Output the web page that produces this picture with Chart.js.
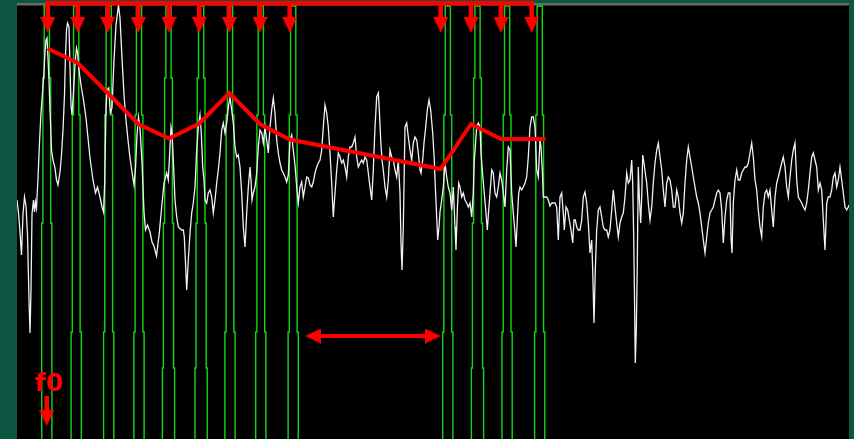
<!DOCTYPE html>
<html>
<head>
<meta charset="utf-8">
<script src="https://cdn.jsdelivr.net/npm/chart.js@4.4.1/dist/chart.umd.min.js"></script>
<style>
  html, body { margin: 0; padding: 0; background: #0c5540; }
  canvas { display: block; }
</style>
</head>
<body>
<canvas id="spectrum" width="854" height="439"></canvas>
<script>
// x = frequency bin, y = attenuation below the top of the display (larger = lower)
const spectrum = [
  [17, 200], [18.5, 213], [20, 232], [21.5, 255], [23, 214], [24.5, 197], [26, 206], [27.5, 235],
  [29, 300], [30, 333], [31, 290], [32, 214], [33.5, 200], [34.5, 212], [35.5, 202], [36.5, 208],
  [38, 178], [39.5, 142], [41, 113], [42.5, 93], [44, 72], [45, 52], [46, 40], [47, 38],
  [48, 58], [49, 80], [50, 110], [51.5, 150], [53, 160], [55, 168], [56.5, 180], [58, 185],
  [60, 172], [61.5, 155], [63, 130], [64.5, 95], [65.5, 55], [66.5, 30], [67.5, 23], [69, 27],
  [70, 68], [71, 105], [72, 115], [73.5, 92], [75, 65], [76.5, 48], [77.5, 52], [79, 70],
  [81, 85], [83.5, 100], [86, 118], [88, 138], [90, 158], [93, 180], [95.5, 193], [97.5, 187],
  [100, 197], [102, 207], [103.5, 212], [104.7, 183], [106, 110], [107, 90], [108.7, 88], [110.3, 113],
  [112, 108], [114, 60], [116, 25], [118.5, 5], [120, 18], [122, 58], [124, 95], [126, 120],
  [128, 140], [130, 158], [132, 172], [134, 185], [135.5, 168], [137, 135], [138.5, 117], [140, 128],
  [142, 163], [144, 212], [145.5, 230], [147.5, 225], [150, 232], [152, 242], [154, 246], [156.5, 256],
  [159.3, 233], [161.7, 207], [164, 183], [166.7, 173], [168.3, 180], [170, 147], [171, 127], [172, 133],
  [173.3, 160], [175, 200], [176.7, 217], [178.3, 227], [181.7, 230], [183.3, 230], [184.3, 237], [185.7, 267],
  [186.7, 290], [188.3, 260], [190, 233], [191.7, 213], [193.3, 203], [195, 187], [196.7, 150], [198.3, 127],
  [200, 115], [201.3, 133], [202.7, 167], [204, 180], [205, 200], [206.7, 203], [208.3, 193], [210, 190],
  [211.7, 197], [213.3, 213], [215, 200], [216.7, 183], [218.3, 170], [220, 153], [221.7, 130], [223.3, 123],
  [225, 133], [226.7, 123], [228.3, 107], [230, 98], [231.7, 110], [233.3, 123], [235, 147], [236.7, 157],
  [238.3, 155], [240, 167], [241.7, 193], [243.3, 227], [245, 247], [246.7, 213], [248.3, 187], [250, 167],
  [251, 180], [252, 200], [253.3, 193], [255, 187], [256.7, 173], [258.3, 147], [260, 130], [261.7, 133],
  [263.3, 143], [265, 127], [266.7, 140], [268.3, 153], [270, 127], [271.7, 110], [273.3, 98], [275, 113],
  [276.7, 140], [278.3, 153], [280, 163], [281.7, 170], [283.3, 173], [285, 177], [286.7, 182], [288.3, 175],
  [290, 140], [291.7, 135], [293.3, 150], [295, 165], [296.7, 187], [298.3, 203], [300, 187], [301.7, 182],
  [303.3, 197], [305, 187], [306.7, 177], [308.3, 178], [310, 185], [311.7, 187], [313.3, 182], [315, 173],
  [316.7, 167], [318.3, 163], [320, 160], [321.7, 150], [323.3, 127], [325, 105], [326.7, 113], [328.3, 127],
  [330, 153], [331.7, 183], [333.3, 217], [335, 193], [336.7, 170], [338.3, 153], [340, 157], [341.7, 163],
  [343.3, 160], [345, 167], [346.7, 177], [348.3, 157], [350, 147], [351.7, 147], [353.3, 143], [355, 137],
  [356.7, 157], [358.3, 167], [360, 163], [361.7, 160], [363.3, 163], [365, 157], [366.7, 160], [368.3, 173],
  [370, 187], [371.7, 200], [373.3, 170], [375, 127], [376.7, 97], [378.3, 93], [379.3, 110], [380.7, 140],
  [382, 160], [383.3, 170], [385, 187], [386.7, 197], [388.3, 180], [390, 150], [391.7, 157], [393.3, 160],
  [395, 170], [396.7, 177], [398.3, 160], [400, 193], [401, 243], [402, 270], [403.3, 227], [405, 127],
  [406.7, 123], [408.3, 137], [410, 150], [411.7, 160], [413.3, 143], [415, 137], [416.7, 140], [418.3, 153],
  [420, 170], [421, 173], [422.7, 160], [424, 143], [425.7, 127], [427.3, 110], [429, 100], [430.7, 110],
  [432.7, 133], [434.3, 160], [435.3, 187], [436.7, 217], [437.7, 240], [439, 227], [440, 212], [441.7, 200],
  [443.3, 187], [445, 163], [446.7, 177], [448.3, 187], [450, 193], [451.7, 210], [453.3, 187], [455, 227],
  [456, 250], [457.3, 210], [458.7, 183], [460, 187], [461.7, 197], [463.3, 193], [465, 200], [466.7, 203],
  [468.3, 207], [470, 203], [471.7, 217], [473.3, 193], [474.3, 160], [475.3, 147], [476.7, 127], [478.3, 123],
  [480, 127], [481, 153], [482.3, 170], [484, 190], [486, 213], [487.3, 230], [488.7, 210], [490, 193],
  [491.7, 170], [493.3, 173], [495, 193], [496.7, 197], [498.3, 187], [500, 173], [501.7, 180], [503.3, 193],
  [505, 207], [506.7, 170], [508.3, 147], [510, 150], [511.7, 193], [513.3, 213], [515, 233], [516, 247],
  [517.3, 220], [518.7, 193], [520, 187], [521.7, 190], [523.3, 187], [525, 183], [526.7, 177], [528.3, 157],
  [530, 127], [531.7, 117], [533.3, 117], [535, 127], [536.7, 170], [538.3, 177], [540, 140], [541, 147],
  [542.3, 170], [543.3, 197], [546.7, 197], [548.3, 200], [550, 206], [551.7, 203], [555, 203], [556.7, 207],
  [558.3, 240], [560, 197], [561.7, 193], [563.3, 213], [564.3, 230], [566, 207], [567.7, 210], [569.3, 220],
  [571, 230], [572.7, 243], [574, 220], [575.3, 220], [576.7, 227], [578.3, 230], [580, 230], [581.7, 220],
  [583.3, 197], [585, 192], [586.7, 203], [588.3, 223], [590, 253], [591.7, 240], [592.7, 270], [594, 323],
  [595.3, 270], [596.7, 230], [598.3, 210], [600, 207], [601.7, 217], [603.3, 227], [605, 230], [606.7, 230],
  [608.3, 237], [610, 230], [611.7, 210], [613.3, 190], [615, 207], [616.7, 223], [618.3, 237], [620, 223],
  [621.7, 217], [623.3, 213], [625, 197], [626.7, 173], [628.3, 183], [630, 180], [631.7, 160], [632.7, 183],
  [633.7, 237], [634.7, 313], [635.3, 363], [636.3, 330], [637.3, 263], [638.3, 167], [639.3, 197], [640.7, 223],
  [641.7, 197], [642.7, 155], [644, 163], [645.3, 173], [646.7, 183], [648.3, 203], [650, 220], [651.7, 207],
  [653.3, 183], [655, 163], [656.7, 150], [658.3, 143], [660, 157], [661.7, 170], [663.3, 190], [665, 207],
  [666.7, 183], [668.3, 177], [670, 180], [671.7, 190], [673.3, 207], [675, 207], [676.7, 190], [678.3, 197],
  [680, 213], [681.7, 223], [683.3, 213], [685, 183], [686.7, 160], [688.3, 147], [690, 157], [691.7, 167],
  [693.3, 177], [695, 187], [696.7, 197], [698.3, 203], [700, 213], [701.7, 227], [703.3, 240], [705, 253],
  [706.7, 237], [708.3, 223], [710, 213], [711.7, 210], [713.3, 207], [715, 200], [716.7, 193], [718.3, 190],
  [720, 193], [721.7, 210], [723.3, 243], [725, 217], [726.7, 200], [728.3, 193], [730, 193], [731, 237],
  [732, 253], [733.3, 203], [735, 180], [736.7, 170], [738.3, 180], [740, 180], [741.7, 173], [743.3, 170],
  [745, 167], [746.7, 167], [748.3, 163], [750, 153], [751.7, 143], [753.3, 157], [755, 180], [756.7, 190],
  [758.3, 210], [760, 227], [761.7, 237], [763.3, 207], [765, 193], [766.7, 190], [768.3, 197], [770, 190],
  [771.7, 210], [773.3, 227], [775, 197], [776.7, 183], [778.3, 177], [780, 170], [781.7, 163], [783.3, 157],
  [785, 167], [786.7, 187], [788.3, 197], [790, 177], [791.7, 160], [793.3, 150], [795, 143], [796.7, 180],
  [798.3, 197], [800, 200], [801.7, 203], [803.3, 207], [805, 210], [806.7, 203], [808.3, 190], [810, 173],
  [811.7, 157], [813.3, 153], [815, 160], [816.7, 167], [818.3, 190], [820, 183], [821.7, 190], [823.3, 220],
  [825, 250], [826.7, 203], [828.3, 197], [830, 197], [831.7, 190], [833.3, 177], [835, 173], [836.7, 187],
  [838.3, 180], [840, 167], [841.7, 180], [843.3, 193], [845, 207], [846.7, 210], [848.3, 207], [849, 205],
];

// picked harmonics (red arrows) and the envelope drawn through them
const harmonicBins = [47.7, 77.7, 107.7, 138.3, 169, 199.3, 229.3, 260, 289.7, 440.7, 471, 501, 531.7];
const envelopeBins = [47.7, 77.7, 107.7, 138.3, 169, 199.3, 229.3, 260, 289.7, 440.7, 471, 501, 545.5];
const envelopeLevels = [48.5, 63, 93, 124, 138.5, 123.5, 93, 124, 139.5, 169, 124, 139, 139];

// analysis windows (green): centre bin and the levels where each window widens
const windowCenters = [46.8, 76.2, 108.7, 139, 168.5, 201.1, 230, 260.8, 293.2, 447.8, 477.5, 507.1, 539.7];
const windowSteps = [
  [78, 223], [115, 332], [115, 332], [115, 332], [78, 223, 368], [78, 223, 368], [115, 332],
  [115, 332], [115, 332], [115, 332], [78, 223, 368], [115, 332], [115, 332],
];
const windowHalfWidths = [2.6, 3.9, 5.1, 6.1];

const f0Bin = 46.7;
const gapBins = [305, 441];

const RED = '#ff0000';
const TOP = 6;
const BOTTOM = 440;

const arrowHead = (() => {
  const c = document.createElement('canvas');
  c.width = 15;
  c.height = 16;
  const g = c.getContext('2d');
  g.fillStyle = RED;
  g.beginPath();
  g.moveTo(0, 0);
  g.lineTo(15, 0);
  g.lineTo(7.5, 16);
  g.closePath();
  g.fill();
  return c;
})();

const redLine = (points, width, extra = {}) => ({
  data: points, borderColor: RED, borderWidth: width, pointRadius: 0, order: 0, ...extra,
});
const heads = (points, rotation) => ({
  data: points, showLine: false, pointStyle: arrowHead, pointRadius: 8, pointRotation: rotation, order: 0,
});

const windowOutline = (center, steps) => {
  const left = [];
  const right = [];
  const last = steps.length;
  left.push({ x: center - windowHalfWidths[last], y: BOTTOM });
  for (let i = last; i > 0; i -= 1) {
    left.push({ x: center - windowHalfWidths[i], y: steps[i - 1] });
    left.push({ x: center - windowHalfWidths[i - 1], y: steps[i - 1] });
  }
  left.push({ x: center - windowHalfWidths[0], y: TOP });
  right.push({ x: center + windowHalfWidths[0], y: TOP });
  for (let i = 0; i < last; i += 1) {
    right.push({ x: center + windowHalfWidths[i], y: steps[i] });
    right.push({ x: center + windowHalfWidths[i + 1], y: steps[i] });
  }
  right.push({ x: center + windowHalfWidths[last], y: BOTTOM });
  return left.concat(right);
};

const datasets = [
  redLine(envelopeBins.map((x, i) => ({ x, y: envelopeLevels[i] })), 4),
  redLine([{ x: harmonicBins[0], y: 3.3 }, { x: harmonicBins[harmonicBins.length - 1], y: 3.3 }], 4.5,
    { borderCapStyle: 'square' }),
  ...harmonicBins.map((x) => redLine([{ x, y: 3 }, { x, y: 19 }], 4.6)),
  heads(harmonicBins.map((x) => ({ x, y: 25 })), 0),
  redLine([{ x: f0Bin, y: 396 }, { x: f0Bin, y: 412 }], 4.6),
  heads([{ x: f0Bin, y: 418 }], 0),
  redLine([{ x: gapBins[0] + 10, y: 336 }, { x: gapBins[1] - 10, y: 336 }], 4),
  heads([{ x: gapBins[0] + 8, y: 336 }, { x: gapBins[1] - 8, y: 336 }], (ctx) => (ctx.dataIndex === 0 ? 90 : -90)),
  {
    data: spectrum.map(([x, y]) => ({ x, y })),
    borderColor: '#f2f2f2', borderWidth: 1.3, pointRadius: 0, order: 1,
  },
  ...windowCenters.map((c, i) => ({
    data: windowOutline(c, windowSteps[i]),
    borderColor: 'rgb(20, 215, 20)', borderWidth: 1.4, pointRadius: 0, order: 2,
  })),
];

const backdrop = {
  id: 'backdrop',
  beforeDraw: (chart) => {
    const { ctx, chartArea: a } = chart;
    ctx.save();
    ctx.fillStyle = '#0c5540';
    ctx.fillRect(0, 0, chart.width, chart.height);
    ctx.fillStyle = '#000';
    ctx.fillRect(a.left, 5, a.right - a.left, a.bottom - 5);
    ctx.fillStyle = '#6a6a66';
    ctx.fillRect(a.left, 3, a.right - a.left, 2.5);
    ctx.restore();
  },
  afterDatasetsDraw: (chart) => {
    const { ctx, scales } = chart;
    ctx.save();
    ctx.fillStyle = RED;
    ctx.font = 'bold 25px "DejaVu Sans"';
    ctx.textBaseline = 'alphabetic';
    ctx.fillText('f0', scales.x.getPixelForValue(35), scales.y.getPixelForValue(391));
    ctx.restore();
  },
};

new Chart(document.getElementById('spectrum'), {
  type: 'line',
  data: { datasets },
  plugins: [backdrop],
  options: {
    responsive: false,
    animation: false,
    events: [],
    layout: { autoPadding: false, padding: { left: 17, right: 5, top: 0, bottom: 0 } },
    elements: { line: { tension: 0 } },
    scales: {
      x: { type: 'linear', min: 17, max: 849, display: false },
      y: { type: 'linear', min: 0, max: 439, reverse: true, display: false },
    },
    plugins: { legend: { display: false }, tooltip: { enabled: false } },
  },
});
</script>
</body>
</html>
